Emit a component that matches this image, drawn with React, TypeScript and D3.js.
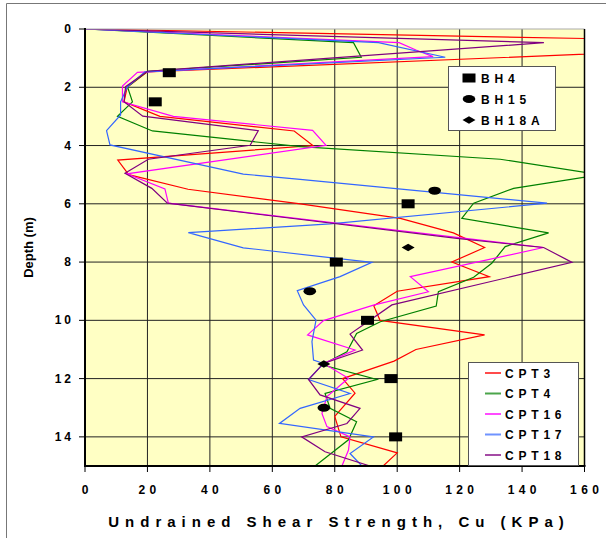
import React from "react";
import * as d3 from "d3";

// CPT profiles: [Cu (kPa), depth (m)]
const cpt3: [number, number][] = [
  [0, 0], [245, 0.5], [20, 1.47], [13.5, 2.0], [12.5, 2.5], [24, 3.0], [67, 3.5], [73, 4.0],
  [10.5, 4.5], [14, 5.0], [33, 5.5], [69, 6.0], [101, 6.5], [118, 7.0], [128, 7.5], [117.5, 8.0],
  [129.5, 8.5], [100, 9.0], [92.5, 9.5], [94.5, 10.0], [128, 10.5], [106, 11.0], [99, 11.4],
  [82.5, 12.0], [86.5, 12.5], [80, 13.3], [82, 14.0], [100, 14.55], [95.5, 15.0],
];
const cpt4: [number, number][] = [
  [0, 0], [86, 0.47], [88.5, 0.97], [20, 1.45], [13.6, 1.98], [15.2, 2.5], [10.4, 3.0], [21.6, 3.5],
  [69, 4.04], [133, 4.47], [165, 5.0], [137.3, 5.47], [124.5, 5.98], [120.7, 6.5], [148.5, 7.0],
  [134.6, 7.47], [130.3, 8.04], [124.5, 8.52], [113.2, 9.02], [112.5, 9.51], [94.6, 10.05],
  [87, 10.45], [83.9, 11.08], [75.9, 11.53], [93.5, 12.03], [76.9, 12.51], [78.5, 13.02],
  [87, 13.48], [84.4, 14.1], [73.7, 15.0],
];
const cpt16: [number, number][] = [
  [0, 0], [100.6, 0.47], [106, 0.72], [111.5, 0.95], [16.8, 1.49], [12, 1.96], [12, 2.5], [28.3, 3.0],
  [72.9, 3.48], [77.2, 3.99], [13.4, 4.97], [25.6, 5.49], [26.7, 5.98], [121.8, 7.19], [146.9, 7.5],
  [104.2, 8.5], [110, 9.02], [92.4, 9.48], [76.4, 10.01], [71.3, 10.5], [86.5, 11.02], [76.4, 11.48],
  [84.4, 11.99], [77.5, 12.62], [75.9, 13.2], [77.5, 13.65], [84.9, 14.0], [84.4, 14.45], [82.3, 15.0],
];
const cpt17: [number, number][] = [
  [0, 0], [94, 0.47], [115.4, 0.97], [19.2, 1.47], [13.6, 1.98], [11.4, 2.5], [11.4, 2.95], [6.9, 3.49],
  [8, 3.98], [50.7, 4.98], [68.9, 5.16], [148, 5.98], [78.5, 6.69], [33.1, 6.99], [50.7, 7.51],
  [91.9, 8.01], [81.7, 8.5], [68, 8.98], [70, 9.47], [74, 9.99], [72.7, 10.73], [73.2, 11.36],
  [76.4, 11.48], [71.6, 12.03], [84.9, 12.51], [68.9, 13.02], [62.3, 13.54], [92.4, 14.0],
  [84.9, 14.57], [88.7, 15.0],
];
const cpt18: [number, number][] = [
  [0, 0], [147, 0.47], [20, 1.45], [13, 1.98], [12.5, 2.5], [18.5, 2.99], [55.5, 3.49], [52.9, 3.99],
  [20.3, 4.47], [12.8, 4.95], [21.4, 5.47], [26.4, 5.98], [119.1, 7.19], [146.9, 7.5], [156, 8.01],
  [98.3, 9.47], [84.9, 10.47], [88.9, 11.02], [76.4, 11.48], [71.6, 12.03], [75.3, 12.56],
  [88.1, 13.02], [83.9, 13.54], [69.4, 14.0], [76.9, 14.51], [91.3, 15.0],
];

// borehole lab results
const bh4: [number, number][] = [[27, 1.5], [22.5, 2.5], [103.5, 6], [80.5, 8], [90.5, 10], [98, 12], [99.5, 14]];
const bh15: [number, number][] = [[112, 5.55], [72, 9], [76.5, 13]];
const bh18a: [number, number][] = [[103.5, 7.5], [76.5, 11.5]];

const cptSeries = [
  { name: "CPT3", data: cpt3, color: "#ff0000" },
  { name: "CPT4", data: cpt4, color: "#008000" },
  { name: "CPT16", data: cpt16, color: "#ff00ff" },
  { name: "CPT17", data: cpt17, color: "#3366ff" },
  { name: "CPT18", data: cpt18, color: "#800080" },
];
const bhLegend = ["BH4", "BH15", "BH18A"];

const xTicks = [0, 20, 40, 60, 80, 100, 120, 140, 160];
const yTicks = [0, 2, 4, 6, 8, 10, 12, 14];

const W = 606;
const H = 538;
const font = "'Liberation Sans', Arial, sans-serif";

const Square = ({ cx, cy }: { cx: number; cy: number }) => (
  <rect x={cx - 6.5} y={cy - 4.5} width={13} height={9} fill="#000" />
);
const Circle = ({ cx, cy }: { cx: number; cy: number }) => (
  <ellipse cx={cx} cy={cy} rx={6.3} ry={4} fill="#000" />
);
const Diamond = ({ cx, cy }: { cx: number; cy: number }) => (
  <path d={`M${cx - 6.5},${cy}L${cx},${cy - 3.8}L${cx + 6.5},${cy}L${cx},${cy + 3.8}Z`} fill="#000" />
);

export default function App() {
  const x = d3.scaleLinear().domain([0, 160]).range([85, 584.5]);
  const y = d3.scaleLinear().domain([0, 15]).range([29, 466]);
  const line = d3
    .line<[number, number]>()
    .x((d) => x(d[0]))
    .y((d) => y(d[1]));

  const [x0, x1] = x.range();
  const [y0, y1] = y.range();

  return (
    <svg width={W} height={H} style={{ position: "absolute", left: 0, top: 0, background: "#fff" }}>
      <defs>
        <clipPath id="plot">
          <rect x={x0} y={y0} width={x1 - x0} height={y1 - y0} />
        </clipPath>
      </defs>
      {/* figure frame (top & left only visible) */}
      <line x1={6.5} y1={3.5} x2={W} y2={3.5} stroke="#777" />
      <line x1={6.5} y1={3.5} x2={6.5} y2={H} stroke="#777" />

      <rect x={x0} y={y0} width={x1 - x0} height={y1 - y0} fill="#ffffc4" />

      {/* grid */}
      {xTicks.slice(1, -1).map((t) => (
        <line key={`gx${t}`} x1={x(t)} x2={x(t)} y1={y0} y2={y1} stroke="#222" strokeWidth={1} />
      ))}
      {yTicks.slice(1).map((t) => (
        <line key={`gy${t}`} x1={x0} x2={x1} y1={y(t)} y2={y(t)} stroke="#222" strokeWidth={1} />
      ))}

      {/* CPT lines */}
      <g clipPath="url(#plot)">
        {cptSeries.map((s) => (
          <path key={s.name} d={line(s.data) || ""} fill="none" stroke={s.color} strokeWidth={1.2} />
        ))}
        {bh4.map((d, i) => <Square key={`s${i}`} cx={x(d[0])} cy={y(d[1])} />)}
        {bh15.map((d, i) => <Circle key={`c${i}`} cx={x(d[0])} cy={y(d[1])} />)}
        {bh18a.map((d, i) => <Diamond key={`d${i}`} cx={x(d[0])} cy={y(d[1])} />)}
      </g>

      {/* plot border */}
      <line x1={x0} x2={x1} y1={y0} y2={y0} stroke="#aaa" />
      <line x1={x1} x2={x1} y1={y0} y2={y1} stroke="#000" strokeWidth={1.5} />
      <line x1={x0} x2={x0} y1={y0 - 1} y2={y1 + 1} stroke="#000" strokeWidth={2} />
      <line x1={x0 - 1} x2={x1 + 1} y1={y1} y2={y1} stroke="#000" strokeWidth={2} />

      {/* y axis */}
      {yTicks.map((t) => (
        <g key={`yt${t}`}>
          <line x1={x0 - 6} x2={x0} y1={y(t)} y2={y(t)} stroke="#000" />
          <text x={74} y={y(t) + 4} textAnchor="end" fontFamily={font} fontWeight="bold" fontSize={12} letterSpacing={3}>
            {t}
          </text>
        </g>
      ))}
      <text
        transform={`translate(33,${(y0 + y1) / 2}) rotate(-90)`}
        textAnchor="middle"
        fontFamily={font}
        fontWeight="bold"
        fontSize={13}
      >
        Depth (m)
      </text>

      {/* x axis */}
      {xTicks.map((t) => (
        <g key={`xt${t}`}>
          <line x1={x(t)} x2={x(t)} y1={y1} y2={y1 + 6} stroke="#000" />
          <text x={x(t) + 2.2} y={y1 + 28} textAnchor="middle" fontFamily={font} fontWeight="bold" fontSize={12} letterSpacing={4.4}>
            {t}
          </text>
        </g>
      ))}
      <text x={339} y={527} textAnchor="middle" fontFamily={font} fontWeight="bold" fontSize={15} letterSpacing={6}>
        Undrained Shear Strength, Cu (KPa)
      </text>

      {/* borehole legend */}
      <g>
        <rect x={448.5} y={66.5} width={107} height={64} fill="#fff" stroke="#555" />
        {bhLegend.map((name, i) => {
          const cy = 78 + i * 21;
          return (
            <g key={name}>
              {i === 0 && <Square cx={469} cy={cy} />}
              {i === 1 && <Circle cx={469} cy={cy} />}
              {i === 2 && <Diamond cx={469} cy={cy} />}
              <text x={481} y={cy + 4.5} fontFamily={font} fontWeight="bold" fontSize={12} letterSpacing={4.8}>
                {name}
              </text>
            </g>
          );
        })}
      </g>

      {/* CPT legend */}
      <g>
        <rect x={468.5} y={362.5} width={110} height={103} fill="#fff" stroke="#555" />
        {cptSeries.map((s, i) => {
          const cy = 373 + i * 20.5;
          return (
            <g key={s.name}>
              <line x1={485} x2={501} y1={cy} y2={cy} stroke={s.color} strokeWidth={2} opacity={0.7} />
              <text x={505} y={cy + 4.5} fontFamily={font} fontWeight="bold" fontSize={12} letterSpacing={4.8}>
                {s.name}
              </text>
            </g>
          );
        })}
      </g>
    </svg>
  );
}
